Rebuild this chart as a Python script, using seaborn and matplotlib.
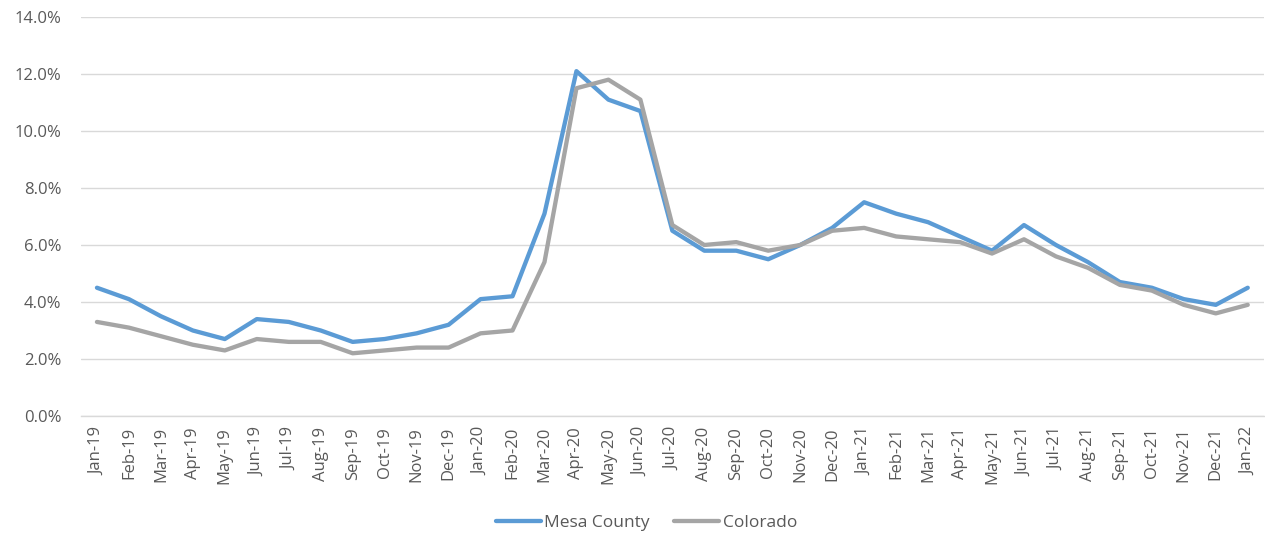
import matplotlib
matplotlib.use("Agg")
import matplotlib.pyplot as plt
from matplotlib.ticker import FuncFormatter, MultipleLocator
import pandas as pd
import seaborn as sns

months = ["Jan-19", "Feb-19", "Mar-19", "Apr-19", "May-19", "Jun-19", "Jul-19", "Aug-19",
          "Sep-19", "Oct-19", "Nov-19", "Dec-19", "Jan-20", "Feb-20", "Mar-20", "Apr-20",
          "May-20", "Jun-20", "Jul-20", "Aug-20", "Sep-20", "Oct-20", "Nov-20", "Dec-20",
          "Jan-21", "Feb-21", "Mar-21", "Apr-21", "May-21", "Jun-21", "Jul-21", "Aug-21",
          "Sep-21", "Oct-21", "Nov-21", "Dec-21", "Jan-22"]

mesa_county = [4.5, 4.1, 3.5, 3.0, 2.7, 3.4, 3.3, 3.0, 2.6, 2.7, 2.9, 3.2, 4.1, 4.2, 7.1, 12.1,
               11.1, 10.7, 6.5, 5.8, 5.8, 5.5, 6.0, 6.6, 7.5, 7.1, 6.8, 6.3, 5.8, 6.7, 6.0, 5.4,
               4.7, 4.5, 4.1, 3.9, 4.5]

colorado = [3.3, 3.1, 2.8, 2.5, 2.3, 2.7, 2.6, 2.6, 2.2, 2.3, 2.4, 2.4, 2.9, 3.0, 5.4, 11.5,
            11.8, 11.1, 6.7, 6.0, 6.1, 5.8, 6.0, 6.5, 6.6, 6.3, 6.2, 6.1, 5.7, 6.2, 5.6, 5.2,
            4.6, 4.4, 3.9, 3.6, 3.9]

series_names = ["Mesa County", "Colorado"]
series_colors = ["#5B9BD5", "#A5A5A5"]

df = pd.concat([
    pd.DataFrame({"Month": months, "Rate": mesa_county, "Area": series_names[0]}),
    pd.DataFrame({"Month": months, "Rate": colorado, "Area": series_names[1]}),
], ignore_index=True)

sns.set_theme(style="white")
plt.rcParams["font.family"] = ["Open Sans", "DejaVu Sans"]

fig = plt.figure(figsize=(12.65, 5.38), dpi=100)
ax = fig.add_axes([0.064, 0.2268, 0.935, 0.7416])

sns.lineplot(data=df, x="Month", y="Rate", hue="Area", hue_order=series_names,
             palette=series_colors, linewidth=3.1, ax=ax, legend=False, sort=False)

ax.set_xlim(-0.5, len(months) - 0.5)
ax.set_ylim(0, 14)
ax.yaxis.set_major_locator(MultipleLocator(2))
ax.yaxis.set_major_formatter(FuncFormatter(lambda v, _: f"{v:.1f}%"))
ax.grid(axis="y", color="#D9D9D9", linewidth=1.0)
ax.set_axisbelow(True)

for side in ["top", "right", "left"]:
    ax.spines[side].set_visible(False)
ax.spines["bottom"].set_color("#D9D9D9")
ax.spines["bottom"].set_linewidth(1.0)

ax.set_xlabel("")
ax.set_ylabel("")
ax.set_xticks(range(len(months)))
ax.set_xticklabels(months, rotation=90)
ax.tick_params(axis="x", length=0, pad=8, labelsize=12, labelcolor="#595959")
ax.tick_params(axis="y", length=0, pad=14, labelsize=12, labelcolor="#595959")

handles = [plt.Line2D([], [], color=c, linewidth=3.1) for c in series_colors]
fig.legend(handles, series_names, loc="center", bbox_to_anchor=(0.511, 0.028), ncol=2,
           frameon=False, fontsize=12.5, handlelength=2.6, handletextpad=0.2,
           columnspacing=1.4, labelcolor="#595959")

fig.savefig("out.png", dpi=100, facecolor="white")
